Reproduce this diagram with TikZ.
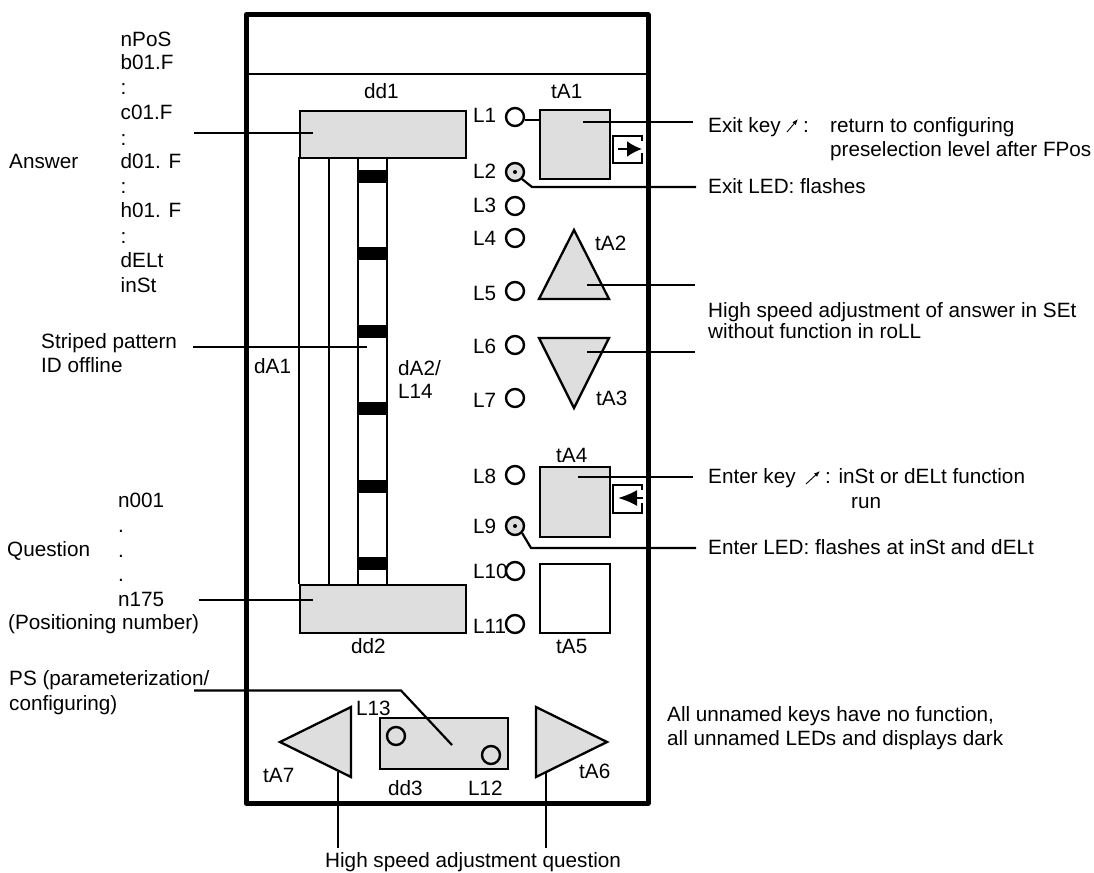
\documentclass[tikz,border=0pt]{standalone}
\usepackage{fontspec}
\setmainfont{Liberation Sans}
\usetikzlibrary{arrows.meta,calc}
\tikzset{
 lbl/.style={anchor=base west,inner sep=0pt,font=\fontsize{20.7}{20.7}\selectfont},
 ledring/.style={draw,circle,line width=2.4pt,minimum size=18pt,inner sep=0pt},
 keyfill/.style={draw,line width=2.3pt,line join=miter,fill=black!13,inner sep=0pt},
 keybox/.style={keyfill,minimum width=70pt,minimum height=69pt},
 disp/.style={keyfill,minimum width=166pt,minimum height=47pt},
 leader/.style={line width=2.2pt},
 thinarrow/.style={-{Latex[length=6pt,width=4.5pt]},line width=.9pt}
}
\begin{document}
\begin{tikzpicture}[x=1pt,y=-1pt]
 \useasboundingbox (0,0) rectangle (1094,872);
 % front panel
 \draw[line width=5pt,line join=round] (246,15) rectangle (648,803);
 \draw[leader] (246,74) -- (648,74);
 % display columns
 \draw[leader] (299,157) -- (299,584);
 \draw[leader] (329,157) -- (329,584);
 \draw[leader] (358,157) -- (358,584);
 \draw[leader] (387,157) -- (387,584);
 \foreach \y in {176.5,253,331,408,486,563}
  \fill (357,\y-6.5) rectangle (388,\y+6.5);
 \node[disp,anchor=north west] (dd1) at (299,110) {};
 \node[disp,anchor=north west,minimum height=48pt] (dd2) at (299,584) {};
 % LEDs
 \foreach \n/\y in {1/117,3/206,4/238,5/291,6/345,7/398,8/475,10/571,11/624}
  \node[ledring] (L\n) at (515,\y) {};
 \node[ledring,fill=black!13] (L2) at (515,172) {};
 \node[ledring,fill=black!13] (L9) at (515,526) {};
 \fill (L2) circle (2pt);
 \fill (L9) circle (2pt);
 \foreach \n/\y in {1/122,2/178,3/212,4/245,5/300,6/353,7/407,8/483,9/533,10/578,11/633}
  \node[lbl] (tL\n) at (473,\y) {L\n};
 % keys
 \node[keybox,anchor=north west] (tA1) at (539,109) {};
 \node[keybox,anchor=north west,minimum height=70pt] (tA4) at (539,466) {};
 \node[keybox,anchor=north west,fill=white] (tA5) at (539,563) {};
 \draw[keyfill] (574,230) -- (609,299) -- (539,299) -- cycle;
 \draw[keyfill] (539,338) -- (609,338) -- (574,408) -- cycle;
 \draw[keyfill] (280,742) -- (351,707) -- (351,777) -- cycle;
 \draw[keyfill] (536,707) -- (607,742) -- (536,777) -- cycle;
 % dd3
 \node[keyfill,anchor=north west,minimum width=128pt,minimum height=51pt] (dd3) at (379,717) {};
 \node[ledring] (L13) at (396,736) {};
 \node[ledring] (L12) at (491,755) {};
 % small key symbols
 \draw[line width=1.8pt] (642,141) |- (613,136) |- (642,163) -- (642,153);
 \draw[-{Latex[length=15pt,width=16pt]},line width=2.2pt] (618,149) -- (642,149);
 \draw[line width=1.8pt] (642,490) |- (613,485) |- (642,513) -- (642,503);
 \draw[-{Latex[length=19pt,width=16pt]},line width=2.2pt] (643,498) -- (618,498);
 % leaders
 \draw[leader] (L1.-18) -- (L1.-18 -| tA1.west);
 \draw[leader] (194,133) -- (313,133);
 \draw[leader] (193,347) -- (367,347);
 \draw[leader] (199,600) -- (313,600);
 \draw[leader] (194,690.5) -- (401,690.5) -- (452,745);
 \draw[leader] (583,122) -- (693,122);
 \draw[leader] (L2.-45) -- (532,187) -- (696,187);
 \draw[leader] (587,285) -- (695,285);
 \draw[leader] (587,352) -- (695,352);
 \draw[leader] (578,477) -- (693,477);
 \draw[leader] (L9.-45) -- (531,548) -- (696,548);
 \draw[leader] (338,772) -- (338,848);
 \draw[leader] (546,773) -- (546,848);
 % panel names
 \node[lbl] (tdd1) at (364,99) {dd1};
 \node[lbl] (ttA1) at (551,99) {tA1};
 \node[lbl] (ttA2) at (595,250) {tA2};
 \node[lbl] (ttA3) at (596,405) {tA3};
 \node[lbl] (ttA4) at (556,462) {tA4};
 \node[lbl] (ttA5) at (556,653) {tA5};
 \node[lbl] (tdd2) at (351,653) {dd2};
 \node[lbl] (tdA1) at (254,373) {dA1};
 \node[lbl] (tdA2) at (398,375) {dA2/};
 \node[lbl] (tL14) at (398,398) {L14};
 \node[lbl] (tL13) at (356,715) {L13};
 \node[lbl] (ttA7) at (263,782) {tA7};
 \node[lbl] (ttA6) at (579,778) {tA6};
 \node[lbl] (tdd3) at (388,795) {dd3};
 \node[lbl] (ttL12) at (468,795) {L12};
 % left column
 \foreach \t/\y in {nPoS/47,b01.F/70,:/95,c01.F/120,:/145,d01. F/168,:/193,h01. F/217,:/243,dELt/267,inSt/292}
  \node[lbl] at (120.5,\y) {\t};
 \node[lbl] (tAns) at (9,168) {Answer};
 \node[lbl] (tStr1) at (41,348) {Striped pattern};
 \node[lbl] (tStr2) at (41,372) {ID offline};
 \foreach \t/\y in {n001/507,./532,./557,./581,n175/606}
  \node[lbl] at (118,\y) {\t};
 \node[lbl] (tQue) at (7,556) {Question};
 \node[lbl] (tPosn) at (8,629) {(Positioning number)};
 \node[lbl] (tPS1) at (9,685) {PS (parameterization/};
 \node[lbl] (tPS2) at (9,710) {configuring)};
 % right column
 \node[lbl] (tExit) at (708,132) {Exit key};
 \draw[thinarrow] (787,132) -- (798,119);
 \node[lbl] (tExitc) at (803,132) {:};
 \node[lbl] (tRet1) at (830,132) {return to configuring};
 \node[lbl] (tRet2) at (830,156) {preselection level after FPos};
 \node[lbl] (tLed1) at (708,193) {Exit LED: flashes};
 \node[lbl] (tHi1) at (708,317) {High speed adjustment of answer in SEt};
 \node[lbl] (tHi2) at (708,338) {without function in roLL};
 \node[lbl] (tEnt1) at (708,483) {Enter key};
 \draw[thinarrow] (806,484) -- (820,471);
 \node[lbl] (tEntc) at (825,483) {: inSt or dELt function};
 \node[lbl] (tEnt2) at (851,508) {run};
 \node[lbl] (tLed2) at (708,554) {Enter LED: flashes at inSt and dELt};
 \node[lbl] (tAll1) at (667,721) {All unnamed keys have no function,};
 \node[lbl] (tAll2) at (667,745) {all unnamed LEDs and displays dark};
 \node[lbl] (tHiQ) at (325,867) {High speed adjustment question};
\end{tikzpicture}
\end{document}
